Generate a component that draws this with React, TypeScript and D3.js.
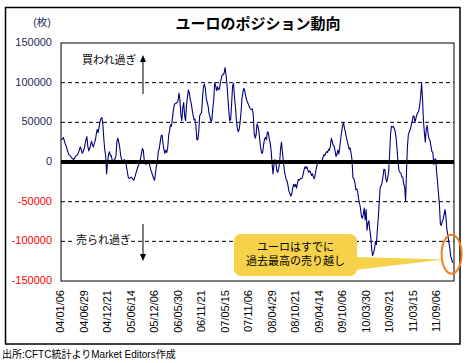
import React from 'react';
import * as d3 from 'd3';

// Weekly euro net position (CFTC), contracts, from 2004-01-06
const START_DATE = new Date(Date.UTC(2004, 0, 6));
const positions: number[] = [
  28000, 29000, 31000, 27000, 23000, 20000, 16000, 12000, 9000, 8000,
  7000, 5000, 4000, 3000, 5000, 7000, 8000, 9000, 12000, 15000,
  19000, 16000, 11000, 13000, 16000, 22000, 28000, 32000, 20000, 14000,
  17000, 22000, 26000, 21000, 19000, 24000, 27000, 35000, 41000, 37000,
  44000, 51000, 55000, 56000, 48000, 30000, 16000, 8000, -15000, -2000,
  9000, 13000, 8000, 8000, 2000, 0, 3000, 4000, 8000, 26000,
  30000, 25000, 18000, 8000, 3000, 1000, 2000, 3000, 1000, -5000,
  -12000, -19000, -21000, -20000, -19000, -20000, -22000, -23000, -19000, -15000,
  -11000, -7000, -4000, -1000, 4000, 10000, 17000, 15000, 3000, -2000,
  -3000, 1000, 2000, -1000, -5000, -10000, -13000, -17000, -21000, -23000,
  -14000, -5000, 0, 13000, 17000, 25000, 33000, 34000, 23000, 16000,
  11000, 15000, 12000, 18000, 33000, 40000, 47000, 45000, 55000, 65000,
  72000, 74000, 74000, 75000, 77000, 87000, 78000, 60000, 52000, 68000,
  75000, 58000, 52000, 72000, 82000, 91000, 87000, 79000, 74000, 66000,
  59000, 53000, 54000, 45000, 28000, 28000, 38000, 58000, 61000, 62000,
  80000, 95000, 98000, 93000, 80000, 75000, 70000, 61000, 57000, 51000,
  53000, 68000, 79000, 100000, 96000, 90000, 95000, 91000, 92000, 100000,
  105000, 110000, 110000, 112000, 119000, 110000, 98000, 81000, 64000, 52000,
  54000, 74000, 96000, 99000, 82000, 70000, 53000, 43000, 38000, 41000,
  50000, 63000, 80000, 88000, 93000, 89000, 83000, 78000, 75000, 72000,
  69000, 67000, 66000, 67000, 60000, 36000, 30000, 34000, 48000, 45000,
  39000, 26000, 17000, 11000, 12000, 22000, 29000, 31000, 28000, 38000,
  37000, 29000, 24000, 14000, -2000, -15000, -4000, 3000, 0, -11000,
  -13000, -8000, -2000, 16000, 25000, 13000, 1000, -10000, -17000, -22000,
  -24000, -30000, -37000, -40000, -43000, -40000, -33000, -28000, -31000, -28000,
  -33000, -27000, -22000, -23000, -21000, -21000, -20000, -16000, -10000, -6000,
  -8000, -6000, -10000, -13000, -11000, -13000, -17000, -15000, -19000, -21000,
  -15000, -8000, -3000, 2000, 1000, -1000, -2000, 0, 5000, 9000,
  8000, 11000, 13000, 12000, 16000, 15000, 20000, 30000, 26000, 21000,
  20000, 14000, 7000, 10000, 15000, 10000, 19000, 29000, 38000, 46000,
  50000, 42000, 38000, 31000, 26000, 21000, 16000, 18000, 11000, 3000,
  -20000, -21000, -25000, -35000, -34000, -37000, -46000, -52000, -58000, -68000,
  -71000, -66000, -58000, -73000, -60000, -86000, -77000, -74000, -86000, -95000,
  -111000, -118000, -114000, -109000, -100000, -104000, -85000, -70000, -50000, -32000,
  -30000, -26000, -18000, -9000, -10000, -21000, -25000, -20000, -12000, 10000,
  35000, 45000, 44000, 45000, 42000, 38000, 30000, 15000, 0, -11000,
  -13000, -14000, -19000, -19000, -28000, -31000, -49000, -12000, 20000, 35000,
  38000, 41000, 46000, 51000, 58000, 58000, 50000, 55000, 60000, 62000,
  64000, 72000, 82000, 100000, 80000, 52000, 37000, 25000, 42000, 46000,
  35000, 29000, 27000, 20000, 13000, 12000, -3000, 3000, 4000, -13000,
  -25000, -40000, -54000, -78000, -80000, -75000, -72000, -66000, -60000, -70000,
  -86000, -92000, -101000, -108000, -119000, -122000, -127000,
];
const yTicks = [150000, 100000, 50000, 0, -50000, -100000, -150000];
const labelEvery = 25;
const title = 'ユーロのポジション動向';
const unitLabel = '(枚)';
const sourceNote = '出所:CFTC統計よりMarket Editors作成';
const overboughtLabel = '買われ過ぎ';
const oversoldLabel = '売られ過ぎ';
const calloutLines = ['ユーロはすでに', '過去最高の売り越し'];

const FONT = "'Liberation Sans', 'Noto Sans CJK JP', sans-serif";
const W = 467;
const H = 363;
const plot = { left: 61, right: 454, top: 43, bottom: 281 };

export default function App() {
  const n = positions.length;
  const x = d3.scaleLinear().domain([-0.5, n + 0.5]).range([plot.left, plot.right]);
  const y = d3.scaleLinear().domain([-150000, 150000]).range([plot.bottom, plot.top]);
  const dates = positions.map((_, i) => d3.utcDay.offset(START_DATE, 7 * i));
  const fmt = d3.utcFormat('%y/%m/%d');
  const labelIdx = d3.range(0, n, labelEvery);
  const line = d3
    .line<number>()
    .x((_, i) => x(i))
    .y((d) => y(d));

  const lastI = n - 1;
  const ex = x(lastI) - 1;
  const ey = y(-110000);

  const cbox = { x0: 234, x1: 357, y0: 234, y1: 276 };

  return (
    <svg
      width={W}
      height={H}
      style={{ position: 'absolute', left: 0, top: 0, background: '#fff' }}
      fontFamily={FONT}
    >
      <rect x={0} y={0} width={W} height={H} fill="#fff" />
      <rect x={5.5} y={7.5} width={454.5} height={336.5} fill="none" stroke="#000" strokeWidth={1.5} />
      <text x={258} y={25} textAnchor="middle" dominantBaseline="middle" fontSize={15} fontWeight="bold" fill="#000">
        {title}
      </text>
      <text x={42} y={23} textAnchor="middle" dominantBaseline="middle" fontSize={10.5} fill="#1F2A60">
        {unitLabel}
      </text>

      {/* gridlines */}
      {yTicks
        .filter((t) => t !== 0 && Math.abs(t) !== 150000)
        .map((t) => (
          <line
            key={'g' + t}
            x1={plot.left}
            x2={plot.right}
            y1={y(t)}
            y2={y(t)}
            stroke="#000"
            strokeWidth={1}
            strokeDasharray="4,3"
          />
        ))}

      {/* y tick labels */}
      {yTicks.map((t) => (
        <text
          key={'t' + t}
          x={52}
          y={y(t)}
          textAnchor="end"
          dominantBaseline="middle"
          fontSize={11}
          fill={t < 0 ? '#FF0000' : '#1F2A60'}
        >
          {String(t)}
        </text>
      ))}

      {/* annotations: overbought / oversold */}
      <text x={82} y={61} dominantBaseline="middle" fontSize={11} fill="#000">
        {overboughtLabel}
      </text>
      <line x1={143} x2={143} y1={94} y2={61} stroke="#808080" strokeWidth={2} />
      <polygon points="143,55 140,62 146,62" fill="#000" />

      <rect x={73} y={233} width={57} height={15} fill="#fff" />
      <text x={76} y={241} dominantBaseline="middle" fontSize={11} fill="#000">
        {oversoldLabel}
      </text>
      <line x1={143} x2={143} y1={224} y2={255} stroke="#808080" strokeWidth={2} />
      <polygon points="140,254 146,254 143,261" fill="#000" />

      {/* series */}
      <path d={line(positions) || ''} fill="none" stroke="#000080" strokeWidth={1.1} strokeLinejoin="round" />

      {/* zero line */}
      <line x1={plot.left} x2={plot.right} y1={y(0)} y2={y(0)} stroke="#000" strokeWidth={4} />

      {/* plot border */}
      <rect
        x={plot.left}
        y={plot.top}
        width={plot.right - plot.left}
        height={plot.bottom - plot.top}
        fill="none"
        stroke="#000"
        strokeWidth={1}
      />

      {/* x labels */}
      {labelIdx.map((i) => (
        <text
          key={'x' + i}
          transform={`translate(${x(i)},290) rotate(-90)`}
          textAnchor="end"
          dominantBaseline="middle"
          fontSize={11}
          fill="#000"
        >
          {fmt(dates[i])}
        </text>
      ))}

      {/* callout */}
      <polygon
        points={`${cbox.x1 - 2},257 ${ex - 8},259.5 ${cbox.x1 - 2},270`}
        fill="#F5D24A"
      />
      <rect
        x={cbox.x0}
        y={cbox.y0}
        width={cbox.x1 - cbox.x0}
        height={cbox.y1 - cbox.y0}
        rx={7}
        fill="#F5D24A"
      />
      {calloutLines.map((s, k) => (
        <text
          key={'c' + k}
          x={(cbox.x0 + cbox.x1) / 2}
          y={248 + k * 14}
          textAnchor="middle"
          dominantBaseline="middle"
          fontSize={11}
          fill="#000"
        >
          {s}
        </text>
      ))}
      <ellipse cx={ex} cy={ey + 5} rx={10} ry={19.5} fill="none" stroke="#F07D1E" strokeWidth={2} />

      <text x={2} y={355} dominantBaseline="middle" fontSize={10} fill="#000">
        {sourceNote}
      </text>
    </svg>
  );
}
